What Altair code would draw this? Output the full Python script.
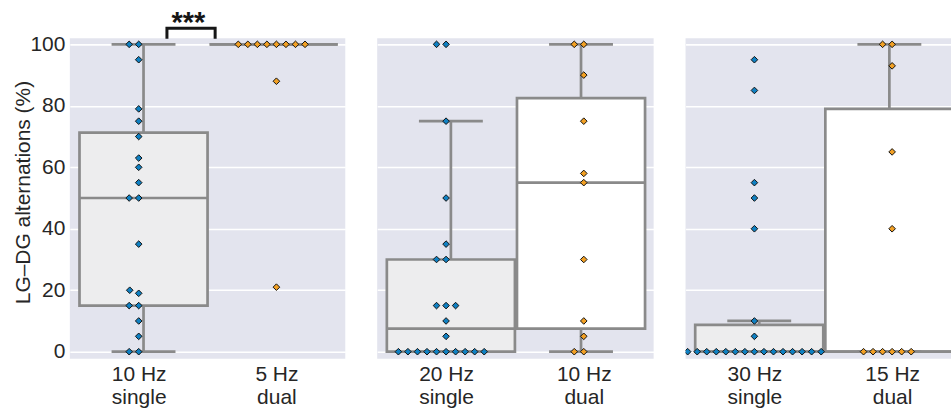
import json
import numpy as np
import pandas as pd
import altair as alt

# ---------------- data ----------------
single_freqs = ["10 Hz", "20 Hz", "30 Hz"]
dual_freqs = ["5 Hz", "10 Hz", "15 Hz"]
groups = ["single", "dual"]
y_ticks = [0, 20, 40, 60, 80, 100]
y_title = "LG–DG alternations (%)"
sig_label = "***"

single_1 = [100, 100, 95, 79, 75, 70, 63, 60, 55, 50, 50, 35, 20, 19, 15, 15, 10, 5, 0, 0]
dual_1 = [100, 100, 100, 100, 100, 100, 100, 100, 88, 21]
single_2 = [100, 100, 75, 50, 35, 30, 30, 15, 15, 15, 10, 5, 0, 0, 0, 0, 0, 0, 0, 0, 0, 0]
dual_2 = [100, 100, 90, 75, 58, 55, 30, 10, 5, 0, 0]
single_3 = [95, 85, 55, 50, 40, 10, 5, 0, 0, 0, 0, 0, 0, 0, 0, 0, 0, 0, 0, 0, 0, 0]
dual_3 = [100, 100, 93, 65, 40, 0, 0, 0, 0, 0, 0]

panels = [(single_1, dual_1), (single_2, dual_2), (single_3, dual_3)]

# significance bracket (panel 1), in data units
bracket_x = [0.205, 0.205, 0.555, 0.555]
bracket_y = [102.3, 105.2, 105.2, 102.3]
stars_x = 0.36
stars_y = 103.9

# ---------------- style / layout ----------------
BG = "#e3e4ee"
TXT = "#262626"
BOX_EDGE = "#8a8a8a"
BOX_FILL = ["#ededee", "#ffffff"]
PT_COLORS = ["#0f80c2", "#f2a024"]
FS = 21
PANEL_W = [276, 277, 266]
PLOT_H = 321
PX_PER_X = 138.0
Y_DOMAIN = [-2.27, 101.95]
PX_PER_Y = PLOT_H / (Y_DOMAIN[1] - Y_DOMAIN[0])
BOX_EXT = {"single": (-0.43, 0.50), "dual": (0.515, 1.445)}
CAP_HALF = 0.232
SWARM_CENTER = {"single": 0.0, "dual": 1.0}
SWARM_D = 9.1  # px


def swarm_offsets(values, d=SWARM_D):
    vals = np.asarray(values, dtype=float)
    order = np.argsort(vals, kind="stable")
    offs = np.zeros(len(vals))
    placed = []
    for i in order:
        y = vals[i] * PX_PER_Y
        neigh = [(xj, yj) for xj, yj in placed if abs(yj - y) < d]
        cands = [0.0]
        for xj, yj in neigh:
            dy = y - yj
            dx = np.sqrt(max(d * d - dy * dy, 0.0)) * 1.05
            cands += [xj - dx, xj + dx]
        cands = sorted(cands, key=abs)
        for c in cands:
            if all((c - xj) ** 2 + (y - yj) ** 2 >= d * d * 0.999 for xj, yj in neigh):
                offs[i] = c
                break
        placed.append((offs[i], y))
    return offs / PX_PER_X


def box_stats(values):
    v = np.asarray(values, dtype=float)
    q1, med, q3 = np.percentile(v, [25, 50, 75])
    iqr = q3 - q1
    hi = v[v <= q3 + 1.5 * iqr].max()
    lo = v[v >= q1 - 1.5 * iqr].min()
    return q1, med, q3, lo, hi


def make_panel(k):
    s_vals, d_vals = panels[k]
    first = k == 0
    width = PANEL_W[k]
    xmax = -0.5 + width / PX_PER_X
    pts, boxes = [], []
    for g, vals in zip(groups, [s_vals, d_vals]):
        offs = swarm_offsets(vals)
        for v, o in zip(vals, offs):
            pts.append({"grp": g, "x": SWARM_CENTER[g] + o, "value": v})
        q1, med, q3, lo, hi = box_stats(vals)
        l, r = BOX_EXT[g]
        c = (l + r) / 2
        boxes.append({"group": g, "left": l, "right": r, "center": c,
                      "capl": c - CAP_HALF, "capr": c + CAP_HALF,
                      "q1": q1, "med": med, "q3": q3, "lo": lo, "hi": hi})
    pts = pd.DataFrame(pts)
    boxes = pd.DataFrame(boxes)

    xs = alt.Scale(domain=[-0.5, xmax], nice=False, zero=False)
    ys = alt.Scale(domain=Y_DOMAIN, nice=False, zero=False)
    lab0 = [single_freqs[k], groups[0]]
    lab1 = [dual_freqs[k], groups[1]]
    xaxis = alt.Axis(values=[0, 1],
                     labelExpr=f"datum.value == 0 ? {json.dumps(lab0)} : {json.dumps(lab1)}",
                     grid=False, ticks=False, domain=False, title=None,
                     labelFontSize=FS, labelColor=TXT, labelPadding=5,
                     labelLineHeight=23, labelFlush=False, labelOverlap=False,
                     labelAlign="center", labelBaseline="top", labelFont="Liberation Sans")
    yargs = dict(values=y_ticks, grid=True, gridColor="white", gridWidth=1.6,
                 ticks=False, domain=False, labelFontSize=FS, labelColor=TXT,
                 labelPadding=5, labelFont="Liberation Sans")
    if first:
        yaxis = alt.Axis(labels=True, title=y_title, titleFontSize=FS,
                         titleFont="Liberation Sans", titleFontWeight="normal",
                         titleColor=TXT, titleX=-40.7, titleY=154,
                         titleBaseline="alphabetic", titleAngle=270, titleAlign="center",
                         **yargs)
    else:
        yaxis = alt.Axis(labels=False, title=None, **yargs)

    def X(f):
        return alt.X(f, type="quantitative", scale=xs, axis=xaxis)

    def Y(f):
        return alt.Y(f, type="quantitative", scale=ys, axis=yaxis)

    clip = not first
    lw = 2.7
    rect = alt.Chart(boxes).mark_rect(stroke=BOX_EDGE, strokeWidth=lw, clip=clip).encode(
        x=X("left"), x2="right", y=Y("q1"), y2="q3",
        fill=alt.Fill("group:N", scale=alt.Scale(domain=groups, range=BOX_FILL), legend=None))
    med = alt.Chart(boxes).mark_rule(color=BOX_EDGE, strokeWidth=lw, clip=clip).encode(
        x=X("left"), x2="right", y=Y("med"))
    wh_up = alt.Chart(boxes).mark_rule(color=BOX_EDGE, strokeWidth=lw, clip=clip).encode(
        x=X("center"), y=Y("q3"), y2="hi")
    wh_lo = alt.Chart(boxes).mark_rule(color=BOX_EDGE, strokeWidth=lw, clip=clip).encode(
        x=X("center"), y=Y("lo"), y2="q1")
    cap_up = alt.Chart(boxes).mark_rule(color=BOX_EDGE, strokeWidth=lw, clip=clip).encode(
        x=X("capl"), x2="capr", y=Y("hi"))
    cap_lo = alt.Chart(boxes).mark_rule(color=BOX_EDGE, strokeWidth=lw, clip=clip).encode(
        x=X("capl"), x2="capr", y=Y("lo"))
    points = alt.Chart(pts).mark_point(shape="diamond", filled=True, size=44, opacity=1,
                                        stroke="#111111", strokeWidth=1.0, clip=clip).encode(
        x=X("x"), y=Y("value"),
        fill=alt.Fill("grp:N", scale=alt.Scale(domain=groups, range=PT_COLORS), legend=None))
    layers = [rect, wh_up, wh_lo, cap_up, cap_lo, med, points]
    if first:
        bdf = pd.DataFrame({"x": bracket_x, "y": bracket_y, "o": list(range(len(bracket_x)))})
        bracket = alt.Chart(bdf).mark_line(color="#161616", strokeWidth=3, strokeJoin="miter",
                                           strokeCap="square", clip=False).encode(
            x=X("x"), y=Y("y"), order="o:Q")
        sdf = pd.DataFrame({"x": [stars_x], "y": [stars_y], "t": [sig_label]})
        stars = alt.Chart(sdf).mark_text(fontSize=29, font="Liberation Sans", fontWeight="bold",
                                         color="#161616", baseline="alphabetic", align="center",
                                         clip=False).encode(
            x=X("x"), y=Y("y"), text="t:N")
        layers += [bracket, stars]
    return alt.layer(*layers).resolve_scale(fill="independent").properties(width=width, height=PLOT_H)


chart = alt.hconcat(*[make_panel(k) for k in range(3)], spacing=32).properties(
    padding={"left": 12, "top": 8, "right": 0, "bottom": 0}, background="white"
).configure_view(fill=BG, stroke=None)

chart.save("out.html", embed_options={"renderer": "svg", "actions": False})
